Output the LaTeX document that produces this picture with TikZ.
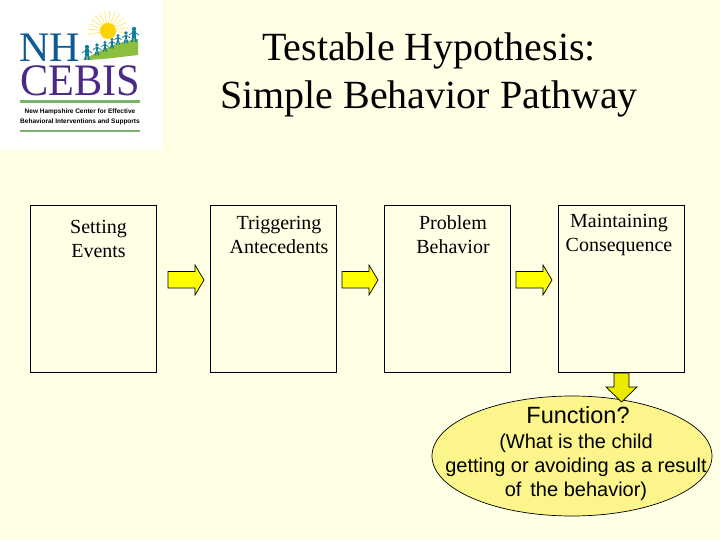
\documentclass[tikz,border=0pt]{standalone}
\usepackage{fontspec}
\setmainfont{Liberation Serif}
\newfontfamily\arialf{Liberation Sans}
\usetikzlibrary{shapes.geometric,calc}
\definecolor{bgc}{HTML}{FFFFE6}
\definecolor{arrowy}{HTML}{FFFF00}
\definecolor{arrowd}{HTML}{EAEA00}
\definecolor{elly}{HTML}{FBF58C}
\definecolor{navyl}{HTML}{0E5A94}
\definecolor{purpl}{HTML}{4A2A86}
\definecolor{greenl}{HTML}{7DB46C}
\definecolor{hillg}{HTML}{8CBF3F}
\definecolor{teall}{HTML}{127E9B}
\definecolor{sunc}{HTML}{FFE96A}
\tikzset{
  x=1pt,y=-1pt,
  stepbox/.style={draw=black,line width=0.75pt,fill=bgc,minimum width=126pt,minimum height=167pt,anchor=north west,inner sep=0pt},
  boxtext/.style={align=center,font=\fontsize{20}{24}\selectfont,inner sep=0pt,anchor=north},
  titletext/.style={align=center,font=\fontsize{40}{48.5}\selectfont,inner sep=0pt},
  blockarrow/.style={draw=black,line width=0.7pt,fill=arrowy},
  person/.style={fill=teall,draw=none}
}
\begin{document}
\begin{tikzpicture}
\useasboundingbox (0,0) rectangle (720,540);
\fill[bgc] (0,0) rectangle (720,540);
% logo
\fill[white] (0,0) rectangle (162,150);
\foreach \a in {-10,5,...,190}{\draw[sunc,line width=0.7pt] (108,31) -- ++({\a}:-20);}
\fill[yellow!70!orange] (108,31) circle (8);
\fill[hillg] (83,60) .. controls (100,50) and (120,41) .. (138,39) -- (138,55) .. controls (120,57) and (100,60) .. (83,60) -- cycle;
\foreach \px/\py/\s in {87/52/1.0,97/49/0.8,105/46/0.7,112/43/0.7,118/39/0.7,126/37/0.8,134/34/1.0}{
  \fill[person] (\px,\py-5*\s) circle (2.2*\s);
  \fill[person] (\px-1.8*\s,\py-3*\s) rectangle (\px+1.8*\s,\py+3*\s);
  \fill[person] (\px-1.8*\s,\py+3*\s) -- (\px-3*\s,\py+8*\s) -- (\px-1*\s,\py+8*\s) -- (\px,\py+3*\s) -- (\px+1*\s,\py+8*\s) -- (\px+3*\s,\py+8*\s) -- (\px+1.8*\s,\py+3*\s) -- cycle;
  \draw[teall,line width=0.8pt] (\px-5*\s,\py+1*\s) -- (\px,\py-2.5*\s) -- (\px+5*\s,\py+1*\s);
}
\node[text=navyl,inner sep=0pt,font=\fontsize{42}{42}\selectfont] (nh) at (50,47.5) {NH};
\node[text=purpl,inner sep=0pt,font=\fontsize{45}{45}\selectfont,xscale=0.94] (cebis) at (80,81) {CEBIS};
\fill[greenl] (20,100.5) rectangle (140,103);
\fill[greenl] (20,130) rectangle (140,132.5);
\node[inner sep=0pt,font=\arialf\bfseries\fontsize{6.5}{10}\selectfont,align=center] (logot) at (80,117) {New Hampshire Center for Effective\\Behavioral Interventions and Supports};
% title
\node[titletext] (title) at (429,75) {Testable Hypothesis:\\Simple Behavior Pathway};
% boxes
\node[stepbox] (b1) at (30,205) {};
\node[stepbox] (b2) at (210,205) {};
\node[stepbox] (b3) at (384,205) {};
\node[stepbox] (b4) at (558,205) {};
\node[boxtext] (t1) at (98.5,220) {Setting\\Events};
\node[boxtext] (t2) at (279,216.5) {Triggering\\Antecedents};
\node[boxtext] (t3) at (453,215.5) {Problem\\Behavior};
\node[boxtext] (t4) at (619,214) {Maintaining\\Consequence};
% horizontal arrows
\foreach \xa in {168,342,516}{
  \draw[blockarrow] (\xa,271.5) -- (\xa+27,271.5) -- (\xa+27,265) -- (\xa+36,280) -- (\xa+27,295) -- (\xa+27,288) -- (\xa,288) -- cycle;
}
% function ellipse
\node[ellipse,draw=black,line width=0.7pt,fill=elly,minimum width=280pt,minimum height=120pt,inner sep=0pt] (fn) at (572,456) {};
\node[inner sep=0pt,font=\arialf\fontsize{23.5}{26}\selectfont] (fnt) at (578,415) {Function?};
\node[inner sep=0pt,font=\arialf\fontsize{20}{24}\selectfont,align=center] (fnd) at (576,467) {(What is the child\\getting or avoiding as a result\\of\, the behavior)};
% down arrow
\draw[blockarrow,fill=arrowd] (614,373) -- (629,373) -- (629,387) -- (637,387) -- (621.5,402) -- (606,387) -- (614,387) -- cycle;
\end{tikzpicture}
\end{document}
